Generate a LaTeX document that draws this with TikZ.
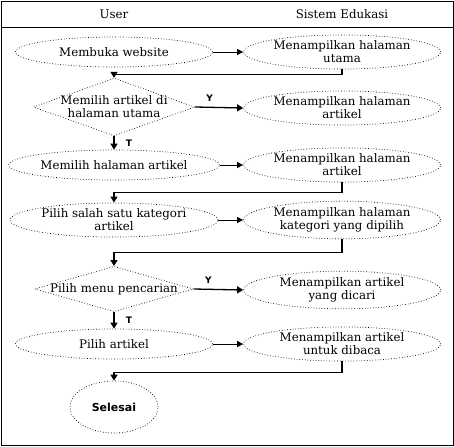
\documentclass[tikz,border=0pt]{standalone}
\usepackage{fontspec}
\setmainfont{DejaVu Serif}
\setsansfont{DejaVu Sans}
\usetikzlibrary{shapes.geometric}
\usetikzlibrary{arrows.meta, positioning}

\tikzset{
  teks/.style={font=\fontsize{11.8}{13}\selectfont},
  garis/.style={draw,dotted,line width=0.7pt},
  proses/.style={ellipse,garis,minimum width=197pt,minimum height=30pt,align=center,inner sep=1pt,teks},
  keputusan/.style={diamond,garis,inner sep=-1pt,align=center,teks},
  alur/.style={-{Triangle[length=6pt,width=7pt]},line width=1.3pt},
  alurtipis/.style={-{Triangle[length=6pt,width=6pt]},line width=0.8pt},
  tanda/.style={font=\sffamily\bfseries\small},
}

\begin{document}
\begin{tikzpicture}[x=1pt,y=-1pt]
\useasboundingbox (0,0) rectangle (454,446);
\draw[line width=0.8pt] (1,1) rectangle (453,445);
\draw[line width=0.8pt] (1,27) -- (453,27);
\node[teks] (hUser) at (114,14) {User};
\node[teks] (hSistem) at (342,14) {Sistem Edukasi};

\node[proses] (buka) at (114,52) {Membuka website};
\node[proses] (utama) at (342,52) {Menampilkan halaman\\utama};
\draw[alurtipis] (buka) -- (utama);

\node[keputusan,aspect=2.8] (pilihArt) at (114,107) {Memilih artikel di\\halaman utama};
\draw[alur] (utama.south) -- ++(0,5) -| (pilihArt.north);
\node[proses] (halArt1) at (342,108) {Menampilkan halaman\\artikel};
\draw[alur] (pilihArt.east) -- (halArt1.west) node[pos=0.3,above=2pt,tanda] (y1) {Y};

\node[proses] (pilihHal) at (114,165) {Memilih halaman artikel};
\draw[alur] (pilihArt.south) -- (pilihHal.north) node[midway,right=8pt,tanda] (t1) {T};
\node[proses] (halArt2) at (342,165) {Menampilkan halaman\\artikel};
\draw[alurtipis] (pilihHal) -- (halArt2);

\node[proses] (pilihKat) at (114,220) {Pilih salah satu kategori\\artikel};
\draw[alur] (halArt2.south) -- ++(0,10) -| (pilihKat.north);
\node[proses] (halKat) at (342,220) {Menampilkan halaman\\kategori yang dipilih};
\draw[alurtipis] (pilihKat) -- (halKat);

\node[keputusan,aspect=3.5] (cari) at (114,289) {Pilih menu pencarian};
\draw[alur] (halKat.south) -- ++(0,13) -| (cari.north);
\node[proses] (hasilCari) at (342,290) {Menampilkan artikel\\yang dicari};
\draw[alur] (cari.east) -- (hasilCari.west) node[pos=0.3,above=2pt,tanda] (y2) {Y};

\node[proses] (pilihArtikel) at (114,344) {Pilih artikel};
\draw[alur] (cari.south) -- (pilihArtikel.north) node[midway,right=8pt,tanda] (t2) {T};
\node[proses] (baca) at (342,344) {Menampilkan artikel\\untuk dibaca};
\draw[alurtipis] (pilihArtikel) -- (baca);

\node[ellipse,garis,minimum width=88pt,minimum height=52pt,font=\sffamily\bfseries\fontsize{11}{13}\selectfont] (selesai) at (114,407) {Selesai};
\draw[alur] (baca.south) -- ++(0,11) -| (selesai.north);
\end{tikzpicture}
\end{document}
